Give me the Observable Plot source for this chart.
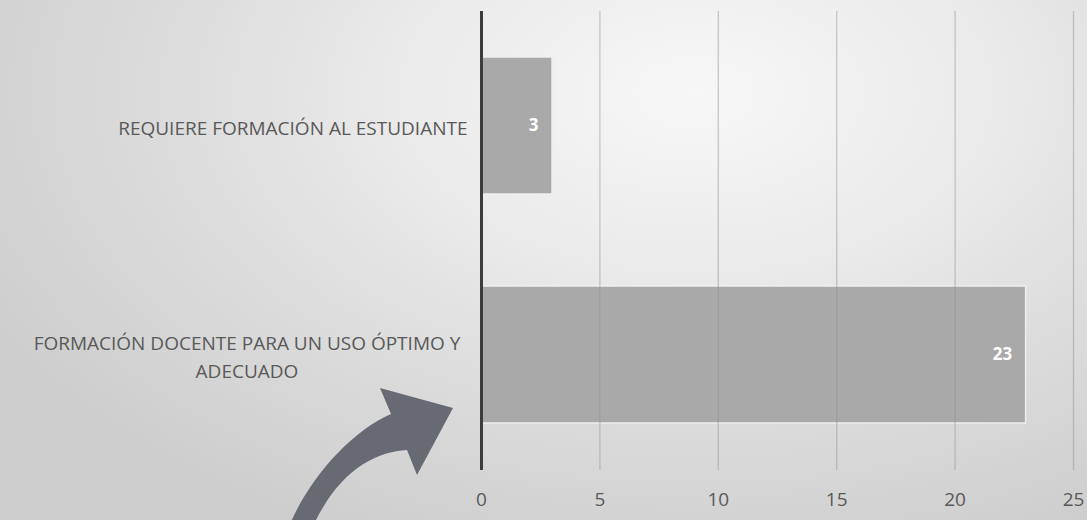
<!DOCTYPE html>
<html>
<head>
<meta charset="utf-8">
<script src="https://cdn.jsdelivr.net/npm/d3@7"></script>
<script src="https://cdn.jsdelivr.net/npm/@observablehq/plot@0.6"></script>
<style>
  html, body { margin: 0; padding: 0; }
  #wrap {
    position: relative; width: 1087px; height: 520px; overflow: hidden;
    background: radial-gradient(ellipse 75% 95% at 64% 18%, #f7f7f7 0%, #ebebeb 35%, #dcdcdc 65%, #cdcdcd 100%);
    font-family: "Open Sans", sans-serif;
  }
  #wrap > svg { position: absolute; left: 0; top: 0; }
  #deco { position: absolute; left: 0; top: 0; pointer-events: none; }
</style>
</head>
<body>
<div id="wrap"></div>
<script>
const categories = ["REQUIERE FORMACIÓN AL ESTUDIANTE", "FORMACIÓN DOCENTE PARA UN USO ÓPTIMO Y ADECUADO"];
const categoryLabels = ["REQUIERE FORMACIÓN AL ESTUDIANTE", "FORMACIÓN DOCENTE PARA UN USO ÓPTIMO Y\nADECUADO"];
const values = [3, 23];
const xTicks = [0, 5, 10, 15, 20, 25];

const data = categories.map((c, i) => ({category: c, value: values[i]}));

const chart = Plot.plot({
  width: 1087,
  height: 520,
  marginLeft: 481,
  marginRight: 14,
  marginTop: 11,
  marginBottom: 50,
  style: {background: "transparent", fontFamily: "'Open Sans', sans-serif", color: "#595959", overflow: "visible"},
  x: {domain: [0, 25], ticks: xTicks, label: null},
  y: {domain: categories, paddingInner: 0.4, paddingOuter: 0.2, label: null},
  marks: [
    Plot.barX(data, {x: "value", y: "category", fill: "#a9a9a9", stroke: "#efefef", strokeWidth: 1.5}),
    Plot.gridX(xTicks, {stroke: "#8f8f8f", strokeOpacity: 0.45, strokeWidth: 1.3}),
    Plot.ruleX([0], {stroke: "#3c3c3c", strokeWidth: 3}),
    Plot.axisX({ticks: xTicks, tickSize: 0, tickPadding: 22, fontSize: 19, label: null, fill: "#595959"}),
    Plot.axisY({tickSize: 0, tickPadding: 14, fontSize: 19, lineHeight: 1.45, label: null, fill: "#595959",
      tickFormat: d => categoryLabels[categories.indexOf(d)]}),
    Plot.text(data, {x: "value", y: "category", text: d => String(d.value), dx: -14, textAnchor: "end",
      fill: "white", fontWeight: "bold", fontSize: 17})
  ]
});
document.getElementById("wrap").appendChild(chart);

// center the lines of multi-line category labels relative to each other (right-aligned block)
chart.querySelectorAll("[aria-label='y-axis tick label'] text").forEach(t => {
  const spans = t.querySelectorAll("tspan");
  if (spans.length > 1) {
    const w = t.getBBox().width;
    t.setAttribute("text-anchor", "middle");
    spans.forEach(s => s.setAttribute("x", -w / 2 - 7));
  }
});

// decorative curved arrow (not data)
const ns = "http://www.w3.org/2000/svg";
const deco = document.createElementNS(ns, "svg");
deco.setAttribute("id", "deco");
deco.setAttribute("width", 1087);
deco.setAttribute("height", 520);
const p = document.createElementNS(ns, "path");
p.setAttribute("d", "M290,524 C310,478 350,432 391,414 L380,388 L453,408 L417,475 L407,450 C375,452 340,470 314,524 Z");
p.setAttribute("fill", "#676a72");
deco.appendChild(p);
document.getElementById("wrap").appendChild(deco);
</script>
</body>
</html>
